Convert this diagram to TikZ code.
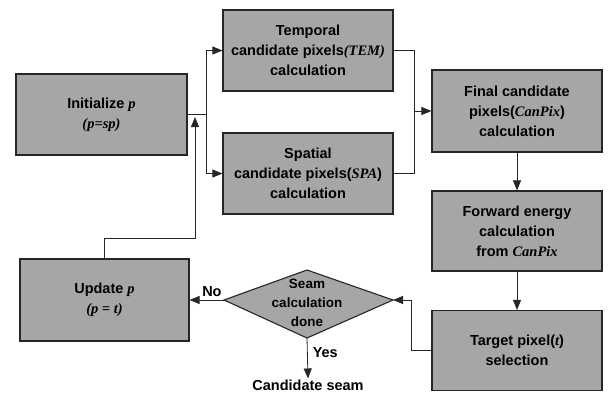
\documentclass[tikz,border=0pt]{standalone}
\usepackage{fontspec}
\setmainfont{Liberation Sans}
\newfontfamily\tms{Liberation Serif}
\usetikzlibrary{arrows.meta}
\newcommand{\vi}[1]{{\tms\itshape #1}}
\begin{document}
\begin{tikzpicture}[x=1pt,y=-1pt,
  box/.style={draw=black!85, line width=1.1pt, fill=black!35, minimum width=170pt, minimum height=81pt, inner sep=2pt, align=center, font=\fontsize{14.5}{20}\selectfont\bfseries},
  conn/.style={draw=black!85, line width=0.8pt},
  arr/.style={conn, -{Triangle[length=10pt,width=8pt]}},
  lbl/.style={font=\fontsize{14.5}{20}\selectfont\bfseries, inner sep=1pt}]
\useasboundingbox (0,0) rectangle (608,392);
\node[box, minimum width=171pt] (init) at (101.5,114.5) {Initialize \vi{p}\\\vi{(p=sp)}};
\node[box] (tem) at (308,50.5) {Temporal\\candidate pixels\vi{(TEM)}\\calculation};
\node[box] (spa) at (308,173.5) {Spatial\\candidate pixels(\vi{SPA})\\calculation};
\node[box, minimum height=82pt] (fin) at (517,111) {Final candidate\\pixels(\vi{CanPix})\\calculation};
\node[box, minimum height=80pt] (fwd) at (517,231) {Forward energy\\calculation\\from \vi{CanPix}};
\node[box, minimum height=80pt] (tgt) at (517,350.5) {Target pixel(\vi{t})\\selection};
\node[box, minimum width=169pt, minimum height=82pt] (upd) at (104.5,300) {Update \vi{p}\\\vi{(p = t)}};
% decision diamond
\coordinate (dL) at (224,300);
\coordinate (dT) at (307,270);
\coordinate (dR) at (393,300);
\coordinate (dB) at (307,338);
\draw[draw=black!85, line width=1.1pt, fill=black!35] (dL) -- (dT) -- (dR) -- (dB) -- cycle;
\node[lbl, align=center, font=\fontsize{13.5}{19}\selectfont\bfseries] (dia) at (307,303) {Seam\\calculation\\done};
\node[lbl] (cand) at (308,385) {Candidate seam};
% junctions
\coordinate (jA) at (206,114.5);
\coordinate (jB) at (195,117);
\coordinate (jC) at (414,111);
\coordinate (jD) at (411,300);
\draw[conn] (init.east) -- (jA);
\draw[arr] (jA) |- (tem.west);
\draw[arr] (jA) |- (spa.west);
\draw[arr] (upd.north) -- ++(0,-20) -| (jB);
\draw[conn] (tem.east) -| (jC);
\draw[conn] (spa.east) -| (jC);
\draw[arr] (jC) -- (fin.west);
\draw[arr] (fin.south) -- (fwd.north);
\draw[arr] (fwd.south) -- (tgt.north);
\draw[arr] (tgt.west) -| (jD) -- (dR);
\draw[arr] (dL) -- node[lbl, above=2pt, pos=0.35] {No} (upd.east);
\draw[arr] (dB) -- node[lbl, right=4pt, pos=0.35] {Yes} (cand.north);
\end{tikzpicture}
\end{document}
